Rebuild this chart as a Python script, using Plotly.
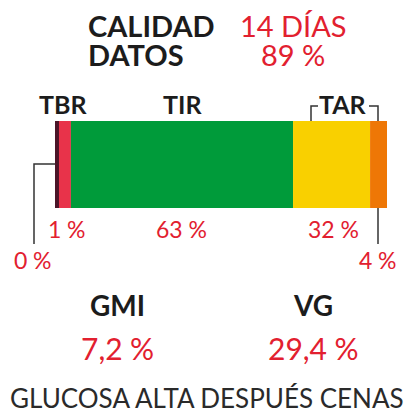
import plotly.graph_objects as go

W, H = 411, 413

# Data
segments = ["TBR muy bajo", "TBR", "TIR", "TAR", "TAR muy alto"]
pct_labels = ["0\u2005%", "1\u2005%", "63\u2005%", "32\u2005%", "4\u2005%"]
bar_widths = [1.2, 3.6, 66.9, 23.2, 5.1]  # visual segment widths
seg_colors = ["#4b1528", "#e8334a", "#009b3a", "#f9d000", "#ee7706"]
header_labels = ["CALIDAD", "DATOS"]
header_values = ["14 DÍAS", "89\u2005%"]
metric_names = ["GMI", "VG"]
metric_values = ["7,2\u2005%", "29,4\u2005%"]
footer = "GLUCOSA ALTA DESPUÉS CENAS"

RED = "#e2202f"
BLACK = "#1c1c1c"
FONT = "Lato, 'Open Sans', sans-serif"


def px(x):
    return x / W


def py(y):
    return 1 - y / H


fig = go.Figure()
base = 0
for name, w, c in zip(segments, bar_widths, seg_colors):
    fig.add_trace(go.Bar(x=[w], y=[0], base=[base], orientation="h", width=1,
                         marker=dict(color=c, line=dict(width=0)), name=name,
                         showlegend=False, hoverinfo="skip"))
    base += w

fig.update_layout(
    width=W, height=H, margin=dict(l=0, r=0, t=0, b=0),
    paper_bgcolor="white", plot_bgcolor="white", barmode="overlay",
    xaxis=dict(domain=[px(55), px(387)], range=[0, sum(bar_widths)], visible=False, fixedrange=True),
    yaxis=dict(domain=[py(208), py(121)], range=[-0.5, 0.5], visible=False, fixedrange=True),
)

ann = []


def text(x, y, t, size, color, bold=False, anchor="center", yanchor="middle"):
    ann.append(dict(x=px(x), y=py(y), xref="paper", yref="paper", text=(f"<b>{t}</b>" if bold else t),
                    showarrow=False, xanchor=anchor, yanchor=yanchor,
                    font=dict(family=FONT, size=size, color=color)))


# Header
text(86, 26, header_labels[0], 29, BLACK, True, "left")
text(86, 54, header_labels[1], 29, BLACK, True, "left")
text(293, 26, header_values[0], 29, RED)
text(293, 54, header_values[1], 29, RED)

# Bar labels
text(63, 104, "TBR", 25, BLACK, True)
text(182, 104, "TIR", 25, BLACK, True)
text(343, 104, "TAR", 25, BLACK, True)

text(67, 229, pct_labels[1], 23, RED)
text(181, 229, pct_labels[2], 23, RED)
text(333, 229, pct_labels[3], 23, RED)
text(33, 260, pct_labels[0], 23, RED)
text(378, 260, pct_labels[4], 23, RED)

# Metrics
text(118, 305, metric_names[0], 28, BLACK, True)
text(313, 305, metric_names[1], 28, BLACK, True)
text(118, 348, metric_values[0], 30, RED)
text(313, 348, metric_values[1], 30, RED)

# Footer
text(207, 416, footer, 26, "#2a2a2a", yanchor="bottom")

fig.update_layout(annotations=ann)

LINE = dict(color="#333333", width=1.5)
shapes = []


def path(points):
    d = "M " + " L ".join(f"{px(x)},{py(y)}" for x, y in points)
    shapes.append(dict(type="path", path=d, xref="paper", yref="paper", line=LINE))


path([(55, 164), (34, 164), (34, 244)])
path([(378, 208), (378, 244)])
path([(311, 121), (311, 106), (318, 106)])
path([(369, 106), (378, 106), (378, 121)])
fig.update_layout(shapes=shapes)

fig.write_html("out.html", config={"displayModeBar": False},
               post_script="document.body.style.margin='0';document.body.style.overflow='hidden';")
